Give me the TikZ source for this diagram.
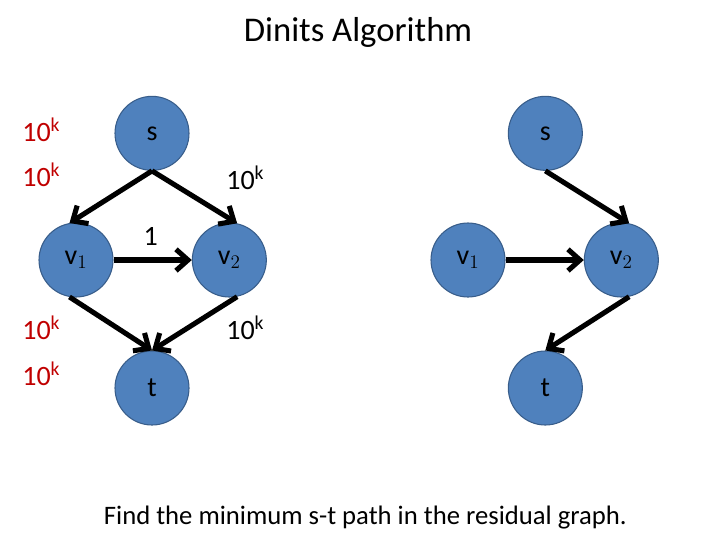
\documentclass[tikz,border=0pt]{standalone}
\usepackage{fontspec}
\setmainfont{Carlito}
\usetikzlibrary{arrows.meta}
\definecolor{nfill}{HTML}{4F81BD}
\definecolor{nline}{HTML}{385D8A}
\definecolor{red10}{HTML}{C00000}
\begin{document}
\begin{tikzpicture}[x=1pt,y=-1pt,
  vx/.style={circle,fill=nfill,draw=nline,line width=0.8pt,minimum size=55.5pt,inner sep=0pt,font=\fontsize{21}{24}\selectfont},
  ed/.style={line width=3.8pt,-{Straight Barb[length=9pt,width=16pt,line width=3.8pt]}},
  pl/.style={line width=3.8pt},
  lb/.style={font=\fontsize{21}{24}\selectfont,inner sep=0pt},
  rl/.style={lb,text=red10}]
\useasboundingbox (0,0) rectangle (540,405);
\node[font=\fontsize{26}{30}\selectfont] (title) at (268.5,24) {Dinits Algorithm};
% left graph
\node[vx] (s) at (114,100) {s};
\node[vx] (v1) at (57,195) {v$_1$};
\node[vx] (v2) at (172,195) {v$_2$};
\node[vx] (t) at (114,291) {t};
\draw[ed] (s.south) -- (v1.100);
\draw[ed] (s.south) -- (v2.78);
\draw[ed] (v1.east) -- (v2.west);
\draw[ed] (v1.-100) -- (t.north);
\draw[ed] (v2.-78) -- (t.north);
\node[rl] (r1) at (31,97) {10$^{\mathrm{k}}$};
\node[rl] (r2) at (31,131) {10$^{\mathrm{k}}$};
\node[rl] (r3) at (31,246) {10$^{\mathrm{k}}$};
\node[rl] (r4) at (31,280) {10$^{\mathrm{k}}$};
\node[lb] (b1) at (184,133) {10$^{\mathrm{k}}$};
\node[lb] (b2) at (184,246) {10$^{\mathrm{k}}$};
\node[lb] (one) at (113,177) {1};
% right graph
\node[vx] (s2) at (409,100) {s};
\node[vx] (w1) at (351,195) {v$_1$};
\node[vx] (w2) at (466,195) {v$_2$};
\node[vx] (t2) at (409,291) {t};
\draw[ed] (s2.south) -- (w2.78);
\draw[ed] (w1.east) -- (w2.west);
\draw[ed] (w2.-78) -- (t2.north);
\node[font=\fontsize{20}{24}\selectfont] (cap) at (274,388) {Find the minimum s-t path in the residual graph.};
\end{tikzpicture}
\end{document}
